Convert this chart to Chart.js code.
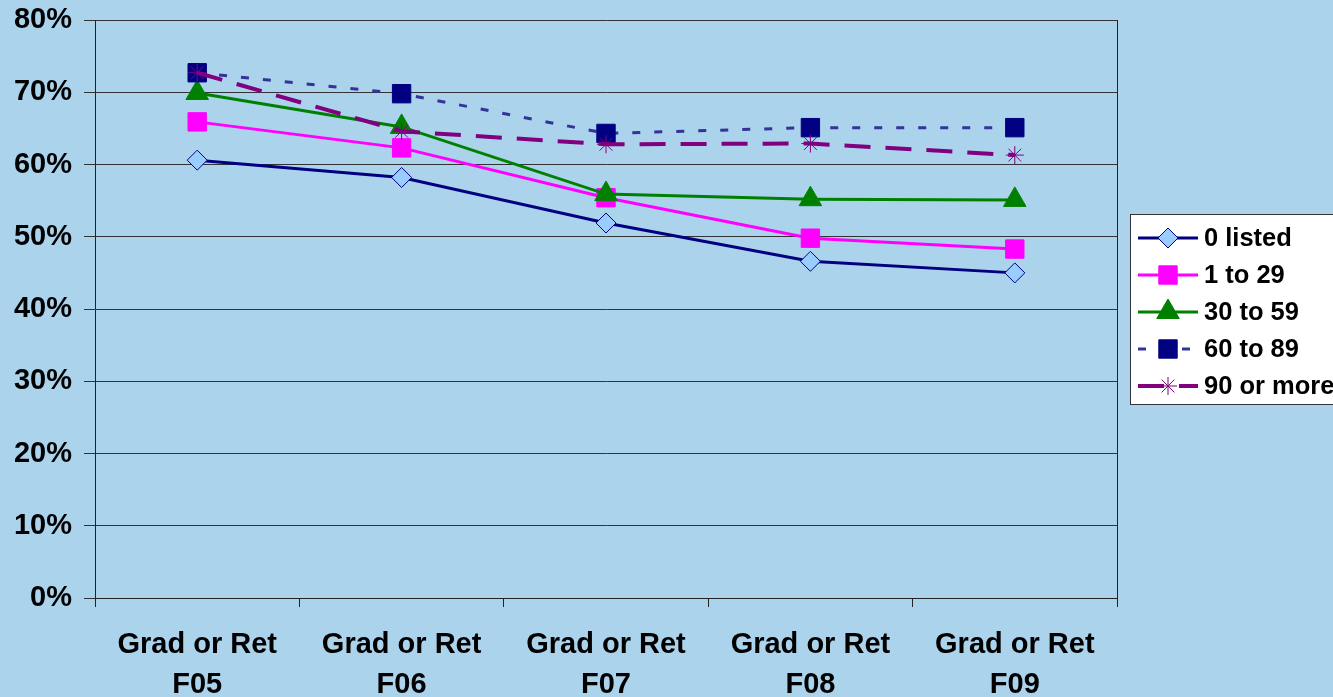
<!DOCTYPE html>
<html>
<head>
<meta charset="utf-8">
<script src="https://cdn.jsdelivr.net/npm/chart.js@4/dist/chart.umd.min.js"></script>
<style>
html, body { margin: 0; padding: 0; background: #abd3ec; overflow: hidden; }
#wrap { width: 1333px; height: 697px; }
</style>
</head>
<body>
<div id="wrap"><canvas id="gradChart" width="1333" height="697"></canvas></div>
<script>
// categories and series values (percent)
const categories = [['Grad or Ret', 'F05'], ['Grad or Ret', 'F06'], ['Grad or Ret', 'F07'], ['Grad or Ret', 'F08'], ['Grad or Ret', 'F09']];
const seriesNames = ['0 listed', '1 to 29', '30 to 59', '60 to 89', '90 or more'];
const listed0 = [60.6, 58.2, 51.9, 46.6, 45.0];
const from1to29 = [65.9, 62.3, 55.4, 49.8, 48.3];
const from30to59 = [69.9, 65.2, 55.9, 55.2, 55.1];
const from60to89 = [72.7, 69.8, 64.3, 65.1, 65.1];
const over90 = [72.7, 64.6, 62.8, 62.9, 61.3];
const yMin = 0, yMax = 80, yStep = 10;

const styles = [
    { line: '#000080', point: 'rectRot', fill: '#99ccff', edge: '#000080', r: 10, dash: [], w: 3 },
    { line: '#ff00ff', point: 'rect', fill: '#ff00ff', edge: '#ff00ff', r: 13, dash: [], w: 3 },
    { line: '#008000', point: 'triangle', fill: '#008000', edge: '#008000', r: 13, dash: [], w: 3 },
    { line: '#333399', point: 'rect', fill: '#000080', edge: '#000080', r: 13, dash: [8, 14], w: 3 },
    { line: '#800080', point: 'star', fill: '#800080', edge: '#800080', r: 9, dash: [26, 15], w: 4 }
];
const allSeries = [listed0, from1to29, from30to59, from60to89, over90];

const datasets = allSeries.map(function (vals, i) {
    const s = styles[i];
    return {
        label: seriesNames[i],
        data: vals,
        borderColor: s.line,
        borderWidth: s.w,
        borderDash: s.dash,
        tension: 0,
        fill: false,
        pointStyle: s.point,
        pointRadius: s.r,
        pointHoverRadius: s.r,
        pointBackgroundColor: s.fill,
        pointBorderColor: s.edge,
        pointBorderWidth: 1,
        order: allSeries.length - i
    };
});

const axisFont = { family: 'Liberation Sans, Arial, sans-serif', size: 29, weight: 'bold', lineHeight: 1.38 };

// right edge of the plot area
const plotFrame = {
    id: 'plotFrame',
    afterDatasetsDraw(chart) {
        const a = chart.chartArea, ctx = chart.ctx;
        ctx.save();
        ctx.strokeStyle = '#222';
        ctx.lineWidth = 1;
        ctx.beginPath();
        ctx.moveTo(Math.round(a.right) + 0.5, a.top);
        ctx.lineTo(Math.round(a.right) + 0.5, a.bottom);
        ctx.stroke();
        ctx.restore();
    }
};

// legend box like the spreadsheet one
const sideLegend = {
    id: 'sideLegend',
    afterDraw(chart) {
        const ctx = chart.ctx;
        const bx = 1130.5, by = 214.5, rowH = 37, firstY = 238;
        ctx.save();
        ctx.fillStyle = '#ffffff';
        ctx.strokeStyle = '#333';
        ctx.lineWidth = 1;
        ctx.fillRect(bx, by, 260, 190);
        ctx.strokeRect(bx, by, 260, 190);
        chart.data.datasets.forEach(function (ds, i) {
            const s = styles[i];
            const y = firstY + i * rowH;
            ctx.save();
            ctx.strokeStyle = s.line;
            ctx.lineWidth = s.w;
            ctx.setLineDash(s.dash);
            ctx.beginPath();
            ctx.moveTo(1138, y);
            ctx.lineTo(1198, y);
            ctx.stroke();
            ctx.restore();
            ctx.save();
            ctx.fillStyle = s.fill;
            ctx.strokeStyle = s.edge;
            ctx.lineWidth = 1;
            Chart.helpers.drawPoint(ctx, { pointStyle: s.point, radius: s.r, borderWidth: 1, rotation: 0 }, 1168, y);
            ctx.restore();
            ctx.fillStyle = '#000';
            ctx.font = 'bold 25.5px "Liberation Sans", Arial, sans-serif';
            ctx.textBaseline = 'middle';
            ctx.fillText(ds.label, 1204, y + 1);
        });
        ctx.restore();
    }
};

new Chart(document.getElementById('gradChart').getContext('2d'), {
    type: 'line',
    data: { labels: categories, datasets: datasets },
    options: {
        responsive: false,
        animation: false,
        devicePixelRatio: 1,
        layout: { padding: { top: 20, right: 216, left: 0, bottom: 0 } },
        plugins: { legend: { display: false }, tooltip: { enabled: false } },
        scales: {
            x: {
                offset: true,
                grid: { offset: true, drawOnChartArea: false, tickLength: 9, color: '#222' },
                border: { color: '#222' },
                ticks: { font: axisFont, color: '#000', padding: 18, maxRotation: 0, autoSkip: false },
                afterFit: function (s) { s.height = 99; s.paddingLeft = 0; s.paddingRight = 0; }
            },
            y: {
                min: yMin,
                max: yMax,
                grid: { color: '#333', tickLength: 11 },
                border: { color: '#222' },
                ticks: {
                    stepSize: yStep,
                    font: { family: 'Liberation Sans, Arial, sans-serif', size: 29, weight: 'bold' },
                    color: '#000',
                    padding: 12,
                    callback: function (v) { return v + '%'; }
                },
                afterFit: function (s) { s.width = 95; s.paddingTop = 0; s.paddingBottom = 0; }
            }
        }
    },
    plugins: [plotFrame, sideLegend]
});
</script>
</body>
</html>
